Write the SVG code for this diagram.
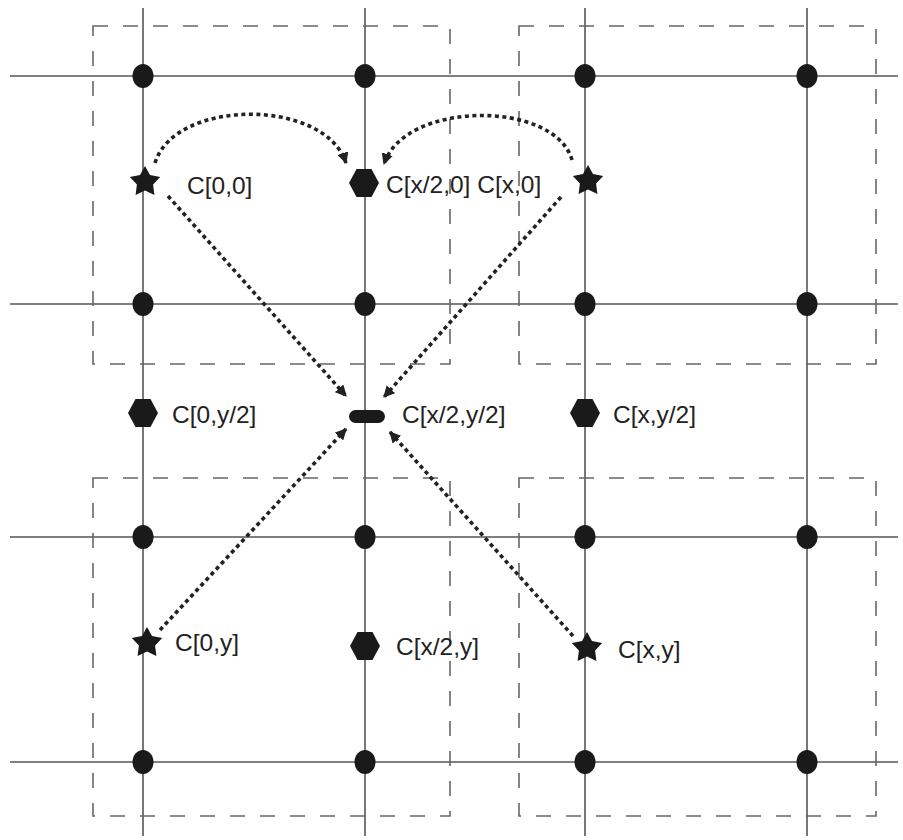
<svg xmlns="http://www.w3.org/2000/svg" width="903" height="840" viewBox="0 0 903 840">
<style>
.grid{stroke:#555;stroke-width:1.6;fill:none}
.box{stroke:#666;stroke-width:1.6;fill:none;stroke-dasharray:15 15}
.dot{fill:#1a1a1a}
.arr{stroke:#222;stroke-width:3.6;fill:none;stroke-dasharray:4 3.5}
.lbl{font-family:"Liberation Sans",Arial,sans-serif;font-size:24.5px;fill:#222}
</style>
<defs>
<marker id="ah" viewBox="0 0 10 10" refX="9" refY="5" markerWidth="3.2" markerHeight="3.2" orient="auto" markerUnits="strokeWidth">
<path d="M0,0 L10,5 L0,10 Z" fill="#222"/>
</marker>
<polygon id="star" points="0,-16 5,-6.9 15.2,-4.9 8.1,2.6 9.4,12.9 0,8.5 -9.4,12.9 -8.1,2.6 -15.2,-4.9 -5,-6.9" fill="#1a1a1a"/>
<polygon id="hex" points="-15,0 -7.5,-14 7.5,-14 15,0 7.5,14 -7.5,14" fill="#1a1a1a"/>
</defs>
<rect width="903" height="840" fill="#fff"/>
<g id="grid">
<line class="grid" x1="143" y1="8" x2="143" y2="836"/>
<line class="grid" x1="365" y1="8" x2="365" y2="836"/>
<line class="grid" x1="585" y1="8" x2="585" y2="836"/>
<line class="grid" x1="807" y1="8" x2="807" y2="836"/>
<line class="grid" x1="10" y1="76" x2="898" y2="76"/>
<line class="grid" x1="10" y1="304" x2="898" y2="304"/>
<line class="grid" x1="10" y1="537" x2="898" y2="537"/>
<line class="grid" x1="10" y1="762" x2="898" y2="762"/>
</g>
<g id="boxes">
<rect class="box" x="93" y="26" width="357" height="338"/>
<rect class="box" x="519" y="26" width="357" height="338"/>
<rect class="box" x="93" y="478" width="357" height="338"/>
<rect class="box" x="519" y="478" width="357" height="338"/>
</g>
<g id="dots">
<ellipse class="dot" cx="143" cy="76" rx="10.5" ry="12"/>
<ellipse class="dot" cx="365" cy="76" rx="10.5" ry="12"/>
<ellipse class="dot" cx="585" cy="76" rx="10.5" ry="12"/>
<ellipse class="dot" cx="807" cy="76" rx="10.5" ry="12"/>
<ellipse class="dot" cx="143" cy="304" rx="10.5" ry="12"/>
<ellipse class="dot" cx="365" cy="304" rx="10.5" ry="12"/>
<ellipse class="dot" cx="585" cy="304" rx="10.5" ry="12"/>
<ellipse class="dot" cx="807" cy="304" rx="10.5" ry="12"/>
<ellipse class="dot" cx="143" cy="537" rx="10.5" ry="12"/>
<ellipse class="dot" cx="365" cy="537" rx="10.5" ry="12"/>
<ellipse class="dot" cx="585" cy="537" rx="10.5" ry="12"/>
<ellipse class="dot" cx="807" cy="537" rx="10.5" ry="12"/>
<ellipse class="dot" cx="143" cy="762" rx="10.5" ry="12"/>
<ellipse class="dot" cx="365" cy="762" rx="10.5" ry="12"/>
<ellipse class="dot" cx="585" cy="762" rx="10.5" ry="12"/>
<ellipse class="dot" cx="807" cy="762" rx="10.5" ry="12"/>
</g>
<g id="connectors">
<path class="arr" d="M155,163 C175,98 325,98 346,163" marker-end="url(#ah)"/>
<path class="arr" d="M572,160 C555,100 405,100 384,164" marker-end="url(#ah)"/>
<path class="arr" d="M168,196 L346,396" marker-end="url(#ah)"/>
<path class="arr" d="M561,197 L384,397" marker-end="url(#ah)"/>
<path class="arr" d="M160,630 L346,429" marker-end="url(#ah)"/>
<path class="arr" d="M573,636 L390,432" marker-end="url(#ah)"/>
</g>
<g id="n-c00"><use href="#star" x="145" y="182"/><text class="lbl" x="187" y="194">C[0,0]</text></g>
<g id="n-cx20"><use href="#hex" x="364" y="183"/><text class="lbl" x="386" y="193">C[x/2,0] C[x,0]</text></g>
<g id="n-cx0"><use href="#star" x="588" y="181"/></g>
<g id="n-c0y2"><use href="#hex" x="143" y="413"/><text class="lbl" x="172" y="423">C[0,y/2]</text></g>
<g id="n-cx2y2"><rect x="349" y="410" width="36" height="13" rx="6.5" fill="#1a1a1a"/><text class="lbl" x="402" y="423">C[x/2,y/2]</text></g>
<g id="n-cxy2"><use href="#hex" x="585" y="413"/><text class="lbl" x="613" y="423">C[x,y/2]</text></g>
<g id="n-c0y"><use href="#star" x="147" y="643"/><text class="lbl" x="175" y="651">C[0,y]</text></g>
<g id="n-cx2y"><use href="#hex" x="365" y="646"/><text class="lbl" x="396" y="655">C[x/2,y]</text></g>
<g id="n-cxy"><use href="#star" x="587" y="648"/><text class="lbl" x="618" y="658">C[x,y]</text></g>
</svg>
